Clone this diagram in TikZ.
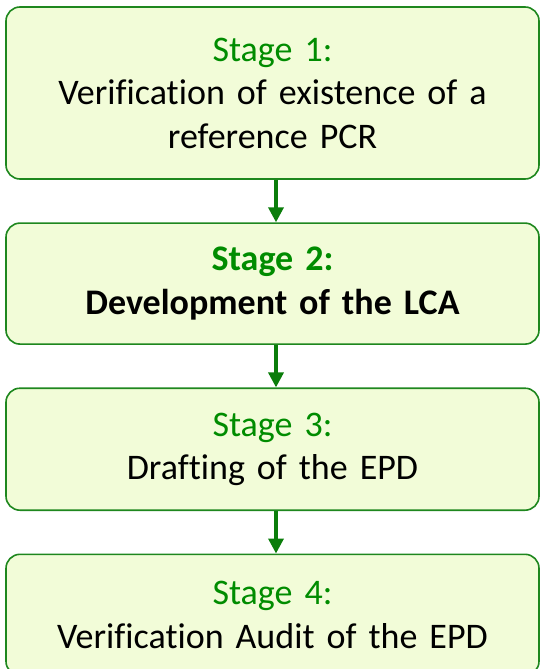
\documentclass[tikz,border=0pt]{standalone}
\usepackage{fontspec}
\setmainfont{Carlito}[Ligatures=NoCommon]
\usetikzlibrary{positioning,arrows.meta}
\definecolor{stagefill}{RGB}{242,252,216}
\definecolor{stageline}{RGB}{30,135,30}
\definecolor{stagegreen}{RGB}{0,140,0}
\definecolor{arrowgreen}{RGB}{10,125,10}
\def\sg#1{\textcolor{stagegreen}{#1}}

\begin{document}
\begin{tikzpicture}[x=1pt,y=1pt,node distance=42.5pt,
	stagebox/.style={draw=stageline,fill=stagefill,line width=1.6pt,rounded corners=14pt,
		minimum width=533pt,text width=520pt,align=center,
		font=\fontsize{36}{43.5}\selectfont},
	flow/.style={-{Triangle[width=15pt,length=15pt]},color=arrowgreen,line width=3.5pt}]
\useasboundingbox (0,0) rectangle (539,-669);
\node[stagebox,minimum height=172pt]	(s1)	at (272.5,-93)		{\sg{Stage 1:}\\Verification of existence of a\\reference PCR};
\node[stagebox,minimum height=121pt]	(s2)	[below=of s1]		{\bfseries\sg{Stage 2:}\\Development of the LCA};
\node[stagebox,minimum height=122pt]	(s3)	[below=of s2]		{\sg{Stage 3:}\\Drafting of the EPD};
\node[stagebox,minimum height=121pt]	(s4)	[below=of s3]		{\sg{Stage 4:}\\Verification Audit of the EPD};
\path[flow]
([xshift=3.5pt]s1.south)	edge	([xshift=3.5pt]s2.north)
([xshift=3.5pt]s2.south)	edge	([xshift=3.5pt]s3.north)
([xshift=3.5pt]s3.south)	edge	([xshift=3.5pt]s4.north)
;
\end{tikzpicture}
\end{document}
